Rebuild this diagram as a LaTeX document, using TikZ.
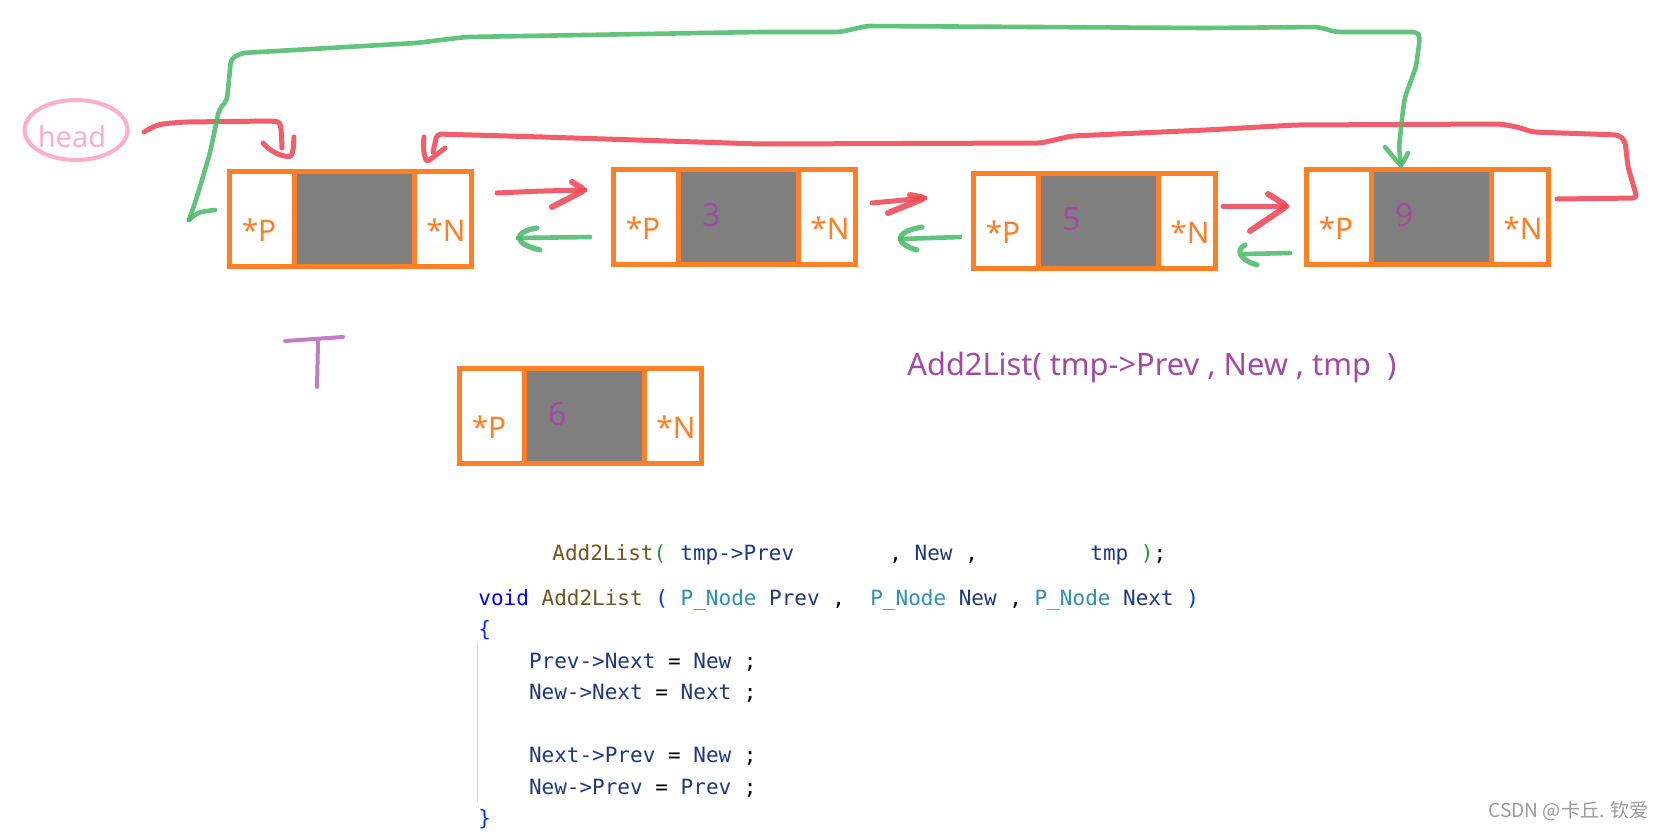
\documentclass[tikz,border=0pt]{standalone}
\usepackage{fontspec}
\setmainfont{Noto Sans}
\newfontfamily\codefont{DejaVu Sans Mono}
\newfontfamily\cjkfont{Noto Sans CJK SC}
\definecolor{boxorange}{RGB}{255,127,39}
\definecolor{cellgray}{RGB}{127,127,127}
\definecolor{digitpurple}{RGB}{163,73,164}
\definecolor{headpink}{RGB}{255,174,201}
\definecolor{penred}{RGB}{237,72,86}
\definecolor{pengreen}{RGB}{76,187,106}
\definecolor{tpurple}{RGB}{195,125,200}
\definecolor{vsblue}{RGB}{0,0,255}
\definecolor{vsbracket}{RGB}{4,49,250}
\definecolor{vsbrown}{RGB}{116,83,31}
\definecolor{vsteal}{RGB}{43,145,175}
\definecolor{vsnavy}{RGB}{31,55,127}
\definecolor{vsgreen}{RGB}{49,147,49}
\definecolor{guidegray}{RGB}{215,215,215}
\definecolor{wmgray}{RGB}{155,155,155}
\newcommand{\ctok}[2]{{\color{#1}#2}}
\tikzset{
  boxframe/.style={draw=boxorange, line width=2.5pt, minimum width=121pt, minimum height=47.5pt, inner sep=0pt},
  divider/.style={draw=boxorange, line width=2.5pt},
  ptrtext/.style={text=boxorange, font=\fontsize{14.9}{17}\selectfont, anchor=base, inner sep=0pt},
  digittext/.style={text=digitpurple, font=\fontsize{16}{19}\selectfont, anchor=base, inner sep=0pt},
  headell/.style={draw=headpink, line width=2pt, ellipse, minimum width=51.5pt, minimum height=30pt, inner sep=0pt},
  headtxt/.style={text=headpink, font=\fontsize{14.5}{17}\selectfont, anchor=base, inner sep=0pt},
  redline/.style={draw=penred, line width=2.5pt, line cap=round, line join=round, opacity=0.88, rounded corners=2pt},
  greenline/.style={draw=pengreen, line width=2.3pt, line cap=round, line join=round, opacity=0.88, rounded corners=2pt},
  tstroke/.style={draw=tpurple, line width=2pt, line cap=round},
  calltext/.style={text=digitpurple, font=\fontsize{15.4}{18}\selectfont, anchor=base west, inner sep=0pt},
  code/.style={font=\codefont\fontsize{10.5}{12}\selectfont, anchor=base west, inner sep=0pt, text=vsnavy},
  guide/.style={draw=guidegray, line width=0.6pt},
  wm/.style={text=wmgray, font=\cjkfont\fontsize{9.6}{11}\selectfont, anchor=base west, inner sep=0pt}
}
\usetikzlibrary{shapes.geometric}
\newcommand{\dllbox}[4]{%
  \fill[cellgray] (#2+67.5,#3+4) rectangle (#2+187.5,#3+96);
  \node[boxframe] (#1) at (#2+123.5,#3+50) {};
  \draw[divider] (#2+67.5,#3+2.5) -- (#2+67.5,#3+97.5);
  \draw[divider] (#2+187.5,#3+2.5) -- (#2+187.5,#3+97.5);
  \node[ptrtext] (#1-p) at (#2+32,#3+72.5) {*P};
  \node[ptrtext] (#1-n) at (#2+219,#3+72.5) {*N};
  \if\relax\detokenize{#4}\relax\else
  \node[digittext] (#1-d) at (#2+101,#3+59.5) {#4};
  \fi
}
\begin{document}
\begin{tikzpicture}[x=0.5pt,y=-0.5pt]
\fill[white] (0,0) rectangle (1667,832);
\useasboundingbox (0,0) rectangle (1667,832);

% head
\node[headell] (head) at (76,130) {};
\node[headtxt] (headlbl) at (72,147) {head};

% list boxes
\dllbox{b1}{227}{169}{}
\dllbox{b2}{611}{167}{3}
\dllbox{b3}{971}{171}{5}
\dllbox{b4}{1304}{167}{9}
\dllbox{b6}{457}{366}{6}

% head -> first node
\coordinate (ha-s) at (144,132);
\coordinate (ha-e) at (282,148);
\draw[redline] (ha-s) .. controls (158,124) .. (185,122) -- (270,121) .. controls (281,122) .. (ha-e);
\draw[redline] (263,143) .. controls (274,156) and (290,158) .. (293,152) -- (294,137);

% long red: last N -> first N
\coordinate (rl-s) at (1557,199);
\coordinate (rl-e) at (433,152);
\draw[redline] (rl-s) -- (1637,198) -- (1628,167) -- (1625,141) -- (1619,135) -- (1533,132) -- (1517,127) -- (1500,124) -- (1296,125) -- (1206,130) -- (1072,136) -- (1041,143) -- (760,144) -- (543,137) -- (437,134) -- (rl-e);
\draw[redline] (424,137) .. controls (422,152) and (426,162) .. (431,159) -- (445,148);

% long green: first P -> last node
\coordinate (gl-s) at (1401,166);
\coordinate (gl-e) at (189,220);
\draw[greenline] (gl-s) -- (1399,147) -- (1403,110) -- (1405,97) -- (1416,67) -- (1420,37) -- (1417,32) -- (1336,32) -- (1318,27) -- (1206,28) -- (867,26) -- (840,32) -- (760,32) -- (466,37) -- (416,43) -- (242,53) -- (231,59) -- (227,100) -- (219,110) -- (210,153) -- (196,200) -- (gl-e);
\draw[greenline] (1385,147) -- (gl-s) -- (1408,153);
\draw[greenline] (gl-e) .. controls (198,212) .. (215,210);

% b1 <-> b2
\coordinate (r1s) at (497,193); \coordinate (r1e) at (585,190);
\draw[redline] (r1s) .. controls (540,191) .. (r1e);
\draw[redline, line width=3pt] (572,182) -- (r1e) -- (552,207);
\coordinate (g1s) at (590,237); \coordinate (g1e) at (518,238);
\draw[greenline] (g1s) -- (g1e);
\draw[greenline, line width=2.6pt] (537,228) .. controls (512,232) and (514,244) .. (540,250);

% b2 <-> b3
\coordinate (r2s) at (872,203); \coordinate (r2e) at (925,198);
\draw[redline] (r2s) -- (r2e);
\draw[redline, line width=3pt] (910,195) -- (r2e) -- (888,213);
\coordinate (g2s) at (960,237); \coordinate (g2e) at (900,239);
\draw[greenline] (g2s) -- (g2e);
\draw[greenline, line width=2.6pt] (922,227) .. controls (893,232) and (895,244) .. (917,250);

% b3 <-> b4
\coordinate (r3s) at (1223,206); \coordinate (r3e) at (1287,206);
\draw[redline] (r3s) -- (r3e);
\draw[redline, line width=3pt] (1268,194) -- (r3e) -- (1250,231);
\coordinate (g3s) at (1290,253); \coordinate (g3e) at (1245,254);
\draw[greenline] (g3s) -- (g3e);
\draw[greenline, line width=2.6pt] (1245,245) .. controls (1235,250) and (1240,260) .. (1257,265);

% T mark
\coordinate (t1) at (285,341); \coordinate (t2) at (343,337);
\coordinate (t3) at (318,342); \coordinate (t4) at (317,387);
\draw[tstroke] (t1) -- (t2);
\draw[tstroke] (t3) -- (t4);

% purple call
\node[calltext] (call) at (907,375) {Add2List( tmp->Prev , New , tmp\ \ )};

% code
\node[code] (c1a) at (552,560) {\ctok{vsbrown}{Add2List}\ctok{vsgreen}{(}};
\node[code] (c1b) at (680,560) {tmp->Prev};
\node[code] (c1c) at (889,560) {\ctok{black}{,} New \ctok{black}{,}};
\node[code] (c1d) at (1090,560) {tmp \ctok{vsgreen}{)}\ctok{black}{;}};
\node[code] (c2) at (478,605) {\ctok{vsblue}{void} \ctok{vsbrown}{Add2List} \ctok{vsbracket}{(} \ctok{vsteal}{P\_Node} Prev \ctok{black}{,}\ \ \ctok{vsteal}{P\_Node} New \ctok{black}{,} \ctok{vsteal}{P\_Node} Next \ctok{vsbracket}{)}};
\node[code, text=vsbracket] (c3) at (478,636.5) {\{};
\node[code] (c4) at (528.6,668) {Prev->Next \ctok{black}{=} New \ctok{black}{;}};
\node[code] (c5) at (528.6,699.5) {New->Next \ctok{black}{=} Next \ctok{black}{;}};
\node[code] (c6) at (528.6,762.5) {Next->Prev \ctok{black}{=} New \ctok{black}{;}};
\node[code] (c7) at (528.6,794) {New->Prev \ctok{black}{=} Prev \ctok{black}{;}};
\node[code, text=vsbracket] (c8) at (478,825.5) {\}};
\coordinate (gd-s) at (477.5,645); \coordinate (gd-e) at (477.5,802);
\draw[guide] (gd-s) -- (gd-e);

% watermark
\node[wm] (wmark) at (1488,817) {CSDN @卡丘. 钦爱};
\end{tikzpicture}
\end{document}
